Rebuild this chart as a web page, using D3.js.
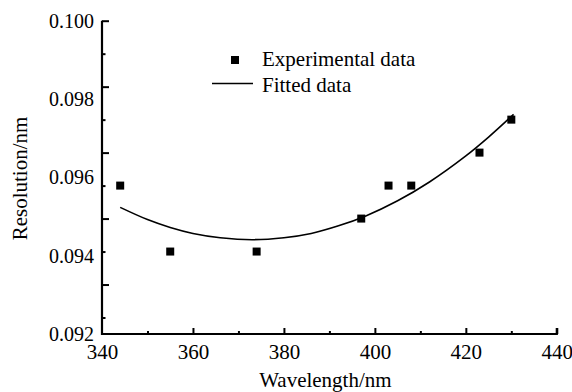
<!DOCTYPE html>
<html>
<head>
<meta charset="utf-8">
<script src="https://cdn.jsdelivr.net/npm/d3@7"></script>
<style>
  body { margin: 0; background: #fff; }
</style>
</head>
<body>
<div id="chart"></div>
<script>
// experimental points
var wavelength = [344, 355, 374, 397, 403, 408, 423, 430];
var resolution = [0.096, 0.094, 0.094, 0.095, 0.096, 0.096, 0.097, 0.098];

// fitted curve
var fitWavelength = [344, 350, 355, 360, 366, 373, 380, 386, 392, 398, 405, 412, 420, 425, 430.5];
var fitResolution = [0.09534, 0.09497, 0.09473, 0.09455, 0.09442, 0.09436, 0.09442, 0.09455,
                     0.09478, 0.09508, 0.09554, 0.09611, 0.0969, 0.09747, 0.09816];

var xTicks = [340, 360, 380, 400, 420, 440];
var yLabels = [0.092, 0.094, 0.096, 0.098, 0.100];
var legendNames = ["Experimental data", "Fitted data"];

var W = 572, H = 392;
var pl = 102, pr = 556.8, pt = 20.7, pb = 334;
var FONT = "'Liberation Serif', 'Times New Roman', serif";

var svg = d3.select("#chart").append("svg").attr("width", W).attr("height", H)
  .style("display", "block").style("font-family", FONT);

var x = d3.scaleLinear().domain([340, 440]).range([pl, pr]);
// tick marks are spaced every 0.001 along this scale
var y = d3.scaleLinear().domain([0.0915, 0.101]).range([pb, pt]);
// the printed labels sit evenly from bottom to top of the axis
var yLab = d3.scaleLinear().domain([0.092, 0.100]).range([pb, pt]);

// x axis
var xMinor = d3.range(350, 440, 20);
svg.append("g").attr("transform", "translate(0," + pb + ")")
  .call(d3.axisTop(x).tickValues(xMinor).tickSize(3).tickFormat(""))
  .call(g => g.select(".domain").remove())
  .selectAll("line").attr("stroke", "#000").attr("stroke-width", 2);
svg.append("g").attr("transform", "translate(0," + pb + ")")
  .call(d3.axisTop(x).tickValues(xTicks.slice(1)).tickSize(6).tickFormat(""))
  .call(g => g.select(".domain").remove())
  .selectAll("line").attr("stroke", "#000").attr("stroke-width", 2);
svg.append("g").attr("transform", "translate(0," + pb + ")")
  .call(d3.axisBottom(x).tickValues(xTicks).tickSize(0).tickPadding(10).tickFormat(d3.format("d")))
  .call(g => g.select(".domain").remove())
  .selectAll("text").style("font-size", "21px").style("font-family", FONT).attr("fill", "#000");

// y axis tick marks
var yMajor = [0.093, 0.095, 0.097, 0.099, 0.101];
var yMinor = [0.092, 0.094, 0.096, 0.098, 0.100];
svg.append("g").attr("transform", "translate(" + pl + ",0)")
  .call(d3.axisRight(y).tickValues(yMinor).tickSize(3.5).tickFormat(""))
  .call(g => g.select(".domain").remove())
  .selectAll("line").attr("stroke", "#000").attr("stroke-width", 2);
svg.append("g").attr("transform", "translate(" + pl + ",0)")
  .call(d3.axisRight(y).tickValues(yMajor).tickSize(7).tickFormat(""))
  .call(g => g.select(".domain").remove())
  .selectAll("line").attr("stroke", "#000").attr("stroke-width", 2);
svg.append("g").attr("transform", "translate(" + (pl - 8) + ",0)")
  .call(d3.axisLeft(yLab).tickValues(yLabels).tickSize(0).tickPadding(0).tickFormat(d3.format(".3f")))
  .call(g => g.select(".domain").remove())
  .selectAll("text").style("font-size", "20px").style("font-family", FONT).attr("fill", "#000");

// axis lines
svg.append("path")
  .attr("d", "M" + pl + "," + pt + "V" + pb + "H" + pr + "V" + (pb - 6))
  .attr("fill", "none").attr("stroke", "#000").attr("stroke-width", 2.2);

// titles
svg.append("text").attr("x", (pl + pr) / 2 - 4).attr("y", 387)
  .attr("text-anchor", "middle").style("font-size", "21px").text("Wavelength/nm");
svg.append("text").attr("transform", "translate(27,178.5) rotate(-90)")
  .attr("text-anchor", "middle").style("font-size", "21px").text("Resolution/nm");

// fitted curve
var line = d3.line().x(d => x(d[0])).y(d => y(d[1])).curve(d3.curveCatmullRom);
svg.append("path")
  .datum(d3.zip(fitWavelength, fitResolution))
  .attr("d", line)
  .attr("fill", "none").attr("stroke", "#000").attr("stroke-width", 1.6);

// experimental points
var s = 8;
svg.append("g").selectAll("rect")
  .data(d3.zip(wavelength, resolution))
  .join("rect")
  .attr("x", d => x(d[0]) - s / 2)
  .attr("y", d => y(d[1]) - s / 2)
  .attr("width", s).attr("height", s)
  .attr("fill", "#000");

// legend
var lg = svg.append("g");
lg.append("rect").attr("x", 231).attr("y", 56).attr("width", s).attr("height", s).attr("fill", "#000");
lg.append("line").attr("x1", 212).attr("x2", 253).attr("y1", 83.5).attr("y2", 83.5)
  .attr("stroke", "#000").attr("stroke-width", 1.6);
lg.selectAll("text").data(legendNames).join("text")
  .attr("x", 262).attr("y", (d, i) => 66 + i * 26)
  .style("font-size", "21px").text(d => d);
</script>
</body>
</html>
